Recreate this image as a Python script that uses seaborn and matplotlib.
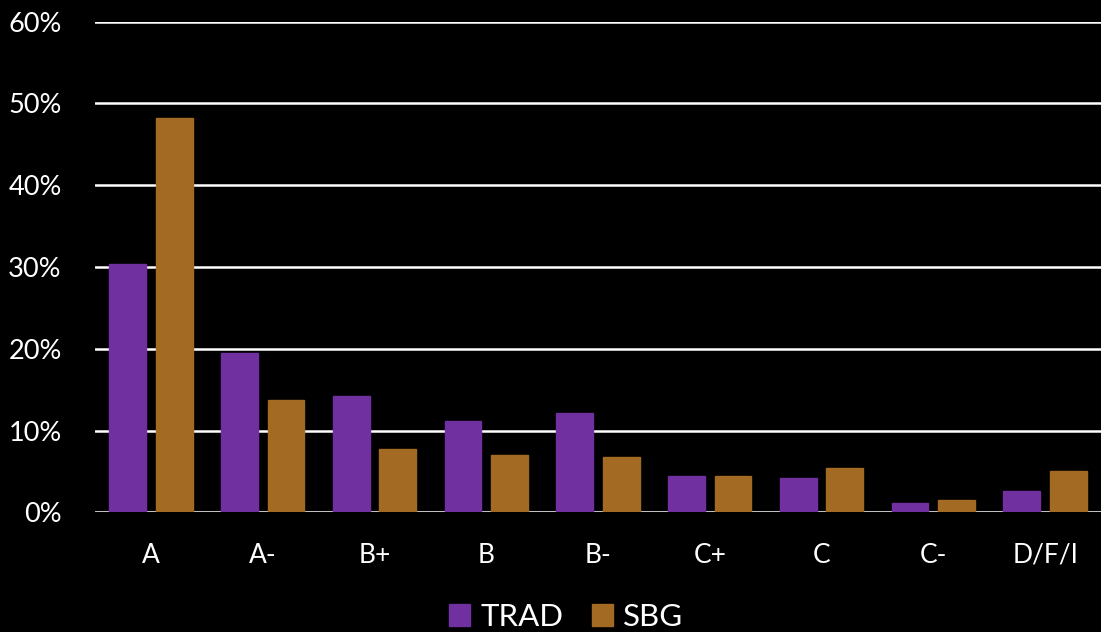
import matplotlib
matplotlib.use("Agg")
import matplotlib.pyplot as plt
import seaborn as sns
import pandas as pd
from matplotlib.ticker import FuncFormatter, MultipleLocator

# Grade distribution, in percent of students
grades = ["A", "A-", "B+", "B", "B-", "C+", "C", "C-", "D/F/I"]
trad = [30.4, 19.5, 14.2, 11.2, 12.1, 4.4, 4.2, 1.1, 2.6]
sbg = [48.2, 13.7, 7.7, 7.0, 6.8, 4.4, 5.4, 1.5, 5.0]
series = ["TRAD", "SBG"]
colors = ["#7030A0", "#A26A22"]

df = pd.DataFrame({
    "grade": grades * 2,
    "pct": trad + sbg,
    "group": [series[0]] * len(grades) + [series[1]] * len(grades),
})

sns.set_theme(style="dark", rc={
    "figure.facecolor": "black",
    "axes.facecolor": "black",
    "savefig.facecolor": "black",
    "text.color": "white",
    "xtick.color": "white",
    "ytick.color": "white",
})
plt.rcParams["font.family"] = ["Lato", "DejaVu Sans"]

fig = plt.figure(figsize=(11.01, 6.32), dpi=100)
ax = fig.add_axes([95 / 1101, 1 - 512.3 / 632, 1 - 95 / 1101, (512.3 - 21.7) / 632])

sns.barplot(data=df, x="grade", y="pct", hue="group", order=grades,
            hue_order=series, palette=colors, width=0.834, gap=0.21,
            linewidth=1.0, saturation=1, ax=ax, legend=True)
for patch, c in zip(ax.patches, [colors[0]] * len(grades) + [colors[1]] * len(grades)):
    patch.set_edgecolor(c)

ax.set_ylim(0, 60)
ax.set_xlim(-0.5, len(grades) - 0.5)
ax.yaxis.set_major_locator(MultipleLocator(10))
ax.yaxis.set_major_formatter(FuncFormatter(lambda v, _: f"{v:.0f}%"))
ax.grid(axis="y", color="white", linewidth=1.8)
ax.grid(axis="x", visible=False)
ax.set_axisbelow(True)
for s in ax.spines.values():
    s.set_visible(False)
ax.tick_params(axis="y", length=0, pad=24, labelsize=19.5)
ax.tick_params(axis="x", length=0, pad=22, labelsize=19)
ax.set_xlabel("")
ax.set_ylabel("")

handles, labels = ax.get_legend_handles_labels()
ax.legend_.remove()
leg = fig.legend(handles, labels, loc="center", bbox_to_anchor=(566 / 1101, 1 - 617 / 632),
                 ncol=2, frameon=False, fontsize=22.5, handlelength=0.69, handleheight=0.69,
                 handletextpad=0.33, columnspacing=0.9, labelcolor="white")
for h, c in zip(leg.legend_handles, colors):
    h.set_facecolor(c)
    h.set_edgecolor(c)

fig.savefig("out.png", dpi=100, facecolor="black")
